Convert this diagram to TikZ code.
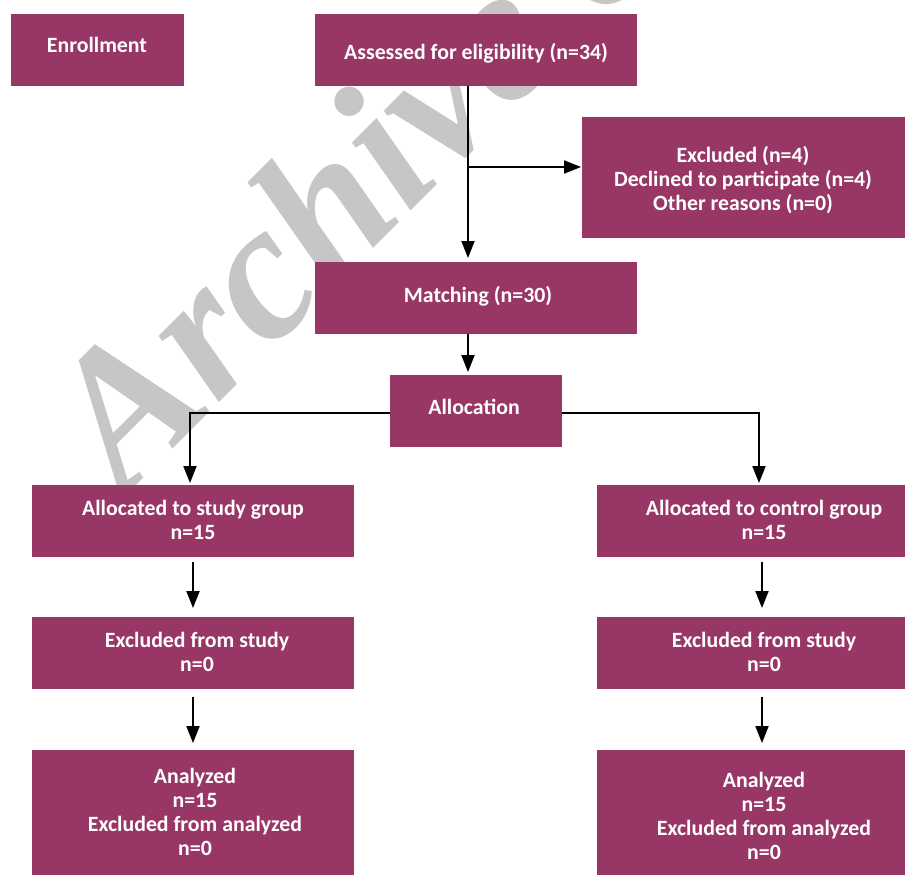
\documentclass[tikz,border=0pt]{standalone}
\usepackage{fontspec}
\setmainfont{Carlito}
\newfontfamily\wmfont{Liberation Serif}
\usetikzlibrary{arrows.meta}
\definecolor{boxc}{HTML}{983766}
\definecolor{wmc}{HTML}{C6C6C6}
\begin{document}
\begin{tikzpicture}[x=1pt,y=-1pt,
  box/.style={fill=boxc, draw=none, inner sep=0pt, anchor=north west},
  txt/.style={text=white, font=\fontsize{21.8}{24}\selectfont\bfseries, align=center, inner sep=0pt},
  arr/.style={line width=2pt, -{Triangle[length=17pt,width=13pt]}},
  ln/.style={line width=2pt}]
\useasboundingbox (0,0) rectangle (905,875);
\begin{scope}
  \clip (0,0) rectangle (905,875);
  \node[rotate=45, anchor=base west, text=wmc, inner sep=0pt,
        font=\wmfont\bfseries\itshape\fontsize{195}{195}\selectfont] (wm) at (124,498) {Archive of SID};
\end{scope}
% boxes
\node[box, minimum width=173pt, minimum height=72pt] (enr) at (11,14) {};
\node[box, minimum width=322pt, minimum height=72pt] (assess) at (315,14) {};
\node[box, minimum width=323pt, minimum height=121pt] (excl) at (582,117) {};
\node[box, minimum width=322pt, minimum height=72pt] (match) at (315,262) {};
\node[box, minimum width=172pt, minimum height=72pt] (alloc) at (390,375) {};
\node[box, minimum width=322pt, minimum height=72pt] (study) at (32,485) {};
\node[box, minimum width=308pt, minimum height=72pt] (control) at (597,485) {};
\node[box, minimum width=322pt, minimum height=72pt] (exL) at (32,617) {};
\node[box, minimum width=308pt, minimum height=72pt] (exR) at (597,617) {};
\node[box, minimum width=322pt, minimum height=125pt] (anL) at (32,750) {};
\node[box, minimum width=308pt, minimum height=125pt] (anR) at (597,750) {};
% texts
\node[txt] (tenr) at (97,45) {Enrollment};
\node[txt] (tassess) at (476,53) {Assessed for eligibility (n=34)};
\node[txt] (texcl) at (743,180) {Excluded (n=4)\\Declined to participate (n=4)\\Other reasons (n=0)};
\node[txt] (tmatch) at (478,296) {Matching (n=30)};
\node[txt] (talloc) at (474,407) {Allocation};
\node[txt] (tstudy) at (193,520) {Allocated to study group\\n=15};
\node[txt] (tcontrol) at (764,520) {Allocated to control group\\n=15};
\node[txt] (texL) at (197,652) {Excluded from study\\n=0};
\node[txt] (texR) at (764,652) {Excluded from study\\n=0};
\node[txt] (tanL) at (195,812) {Analyzed\\n=15\\Excluded from analyzed\\n=0};
\node[txt] (tanR) at (764,816) {Analyzed\\n=15\\Excluded from analyzed\\n=0};
% connectors
\coordinate (br) at (468,167);
\draw[arr, shorten >=4pt] (assess.south -| br) -- (match.north -| br);
\draw[arr, shorten >=1pt] (br) -- (excl.west |- br);
\draw[arr, shorten >=3pt] (match.south -| br) -- (alloc.north -| br);
\coordinate (lb) at (190,413);
\coordinate (rb) at (759,413);
\draw[arr, shorten >=2pt] (alloc.west |- lb) -- (lb) -- (study.north -| lb);
\draw[arr, shorten >=2pt] (alloc.east |- rb) -- (rb) -- (control.north -| rb);
\coordinate (lc) at (193,0);
\coordinate (rc) at (762,0);
\draw[arr, shorten <=5pt, shorten >=9pt] (study.south -| lc) -- (exL.north -| lc);
\draw[arr, shorten <=8pt, shorten >=7pt] (exL.south -| lc) -- (anL.north -| lc);
\draw[arr, shorten <=5pt, shorten >=9pt] (control.south -| rc) -- (exR.north -| rc);
\draw[arr, shorten <=8pt, shorten >=7pt] (exR.south -| rc) -- (anR.north -| rc);
\end{tikzpicture}
\end{document}
